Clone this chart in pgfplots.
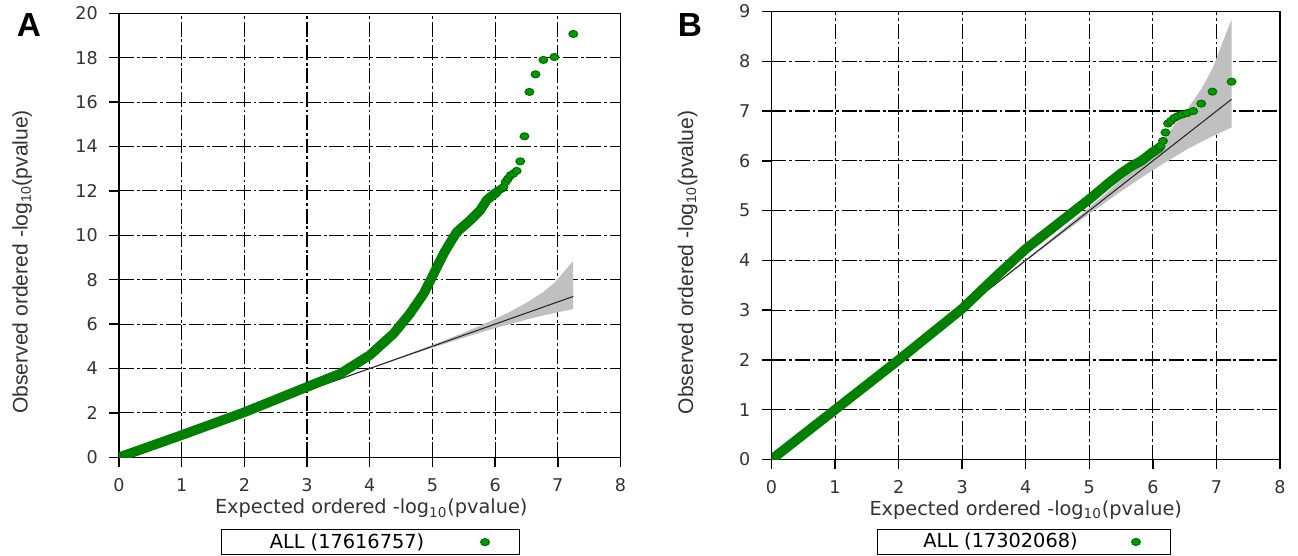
\documentclass[border=0pt]{standalone}
\usepackage{fontspec}
\setmainfont{DejaVu Sans}
\newfontfamily\labfont{Liberation Sans}
\usepackage{pgfplots}
\pgfplotsset{compat=1.18}
\definecolor{qqgreen}{RGB}{0,128,0}
\definecolor{qqband}{RGB}{192,192,192}

\pgfplotsset{
  qqstyle/.style={
    scale only axis,
    xmin=0, xmax=8, xtick={0,...,8},
    ymin=0,
    tick align=outside, tick pos=left,
    major tick length=0.2cm,
    grid=major,
    major grid style={black, line width=0.65pt, dash pattern=on 8.5pt off 1.6pt on 1.6pt off 1.6pt},
    axis line style={black, line width=0.9pt},
    every tick/.style={black, line width=0.8pt},
    tick label style={font=\fontsize{10}{11}\selectfont, text=black!80},
    xticklabel style={yshift=-0.1cm},
    yticklabel style={xshift=-0.1cm},
    /pgf/number format/assume math mode=true,
    xlabel={Expected ordered -log\textsubscript{10}(pvalue)},
    ylabel={Observed ordered -log\textsubscript{10}(pvalue)},
    xlabel style={anchor=center, font=\fontsize{11}{12}\selectfont, text=black!80},
    ylabel style={anchor=center, font=\labfont\fontsize{12}{13}\selectfont, text=black!80},
    legend plot pos=right,
    legend image code/.code={\draw plot coordinates {(0.3cm,0cm)}; \path (0cm,0cm) (0.9cm,0cm);},
  },
  band/.style={forget plot, fill=qqband, draw=none},
  diag/.style={forget plot, black!85, line width=0.6pt},
  dense/.style={forget plot, qqgreen, line width=5.5pt, line cap=round, line join=round},
  pts/.style={only marks, mark=*, mark size=2pt,
    mark options={xscale=1.25, draw=qqgreen!85!black, fill=green!60!black, line width=0.6pt}},
}

\begin{document}
\begin{tikzpicture}
\useasboundingbox (0,0) rectangle (25.96,11.12);

\node[font=\labfont\bfseries\fontsize{19}{20}\selectfont] at (0.58,10.62) {A};
\node[font=\labfont\bfseries\fontsize{19}{20}\selectfont] at (13.8,10.62) {B};

% Panel A
\begin{axis}[qqstyle,
  at={(2.38cm,1.974cm)}, anchor=south west,
  width=10.03cm, height=8.88cm,
  ymax=20, ytick={0,2,...,20},
  xlabel style={at={(axis description cs:0.503,-0.115)}},
  ylabel style={at={(axis description cs:-0.193,0.44)}},
  legend style={at={(axis description cs:0.501,-0.191)}, anchor=center,
    draw=black, line width=0.8pt, inner xsep=2pt, inner ysep=0.3pt,
    font=\fontsize{11}{12}\selectfont},
]
\addplot[band] coordinates {
  (3.246,3.238) (3.746,3.73) (4.246,4.22) (4.547,4.51) (4.946,4.885)
  (5.246,5.16) (5.547,5.43) (5.945,5.77) (6.246,6.01) (6.547,6.24)
  (6.769,6.39) (6.945,6.50) (7.246,6.68)
  (7.246,8.85) (6.945,7.86) (6.769,7.45) (6.547,7.04) (6.246,6.565)
  (5.945,6.16) (5.547,5.67) (5.246,5.33) (4.946,5.005) (4.547,4.585)
  (4.246,4.27) (3.746,3.76) (3.246,3.255)
};
\addplot[diag] coordinates {(0,0) (7.246,7.246)};
\addplot[dense] coordinates {
  (0,0) (1,1) (2,2.03) (2.5,2.6) (3.0,3.17) (3.53,3.77) (4.0,4.6)
  (4.38,5.57) (4.64,6.47) (4.86,7.37) (5.02,8.27) (5.18,9.18) (5.3,9.75)
  (5.39,10.15) (5.6,10.67) (5.76,11.12) (5.87,11.6) (6.03,11.95)
};
\addplot[pts] coordinates {
  (6.07,12.05) (6.10,12.1) (6.132,12.17) (6.167,12.4) (6.205,12.55)
  (6.246,12.7) (6.292,12.78) (6.343,12.9) (6.401,13.33) (6.468,14.46)
  (6.547,16.46) (6.644,17.25) (6.769,17.9) (6.945,18.03) (7.246,19.07)
};
\addlegendentry{\makebox[4.75cm]{ALL (17616757)}}
\end{axis}

% Panel B
\begin{axis}[qqstyle,
  at={(15.43cm,1.93cm)}, anchor=south west,
  width=10.17cm, height=8.96cm,
  ymax=9, ytick={0,1,...,9},
  xlabel style={at={(axis description cs:0.5,-0.113)}},
  ylabel style={at={(axis description cs:-0.165,0.44)}},
  legend style={at={(axis description cs:0.496,-0.184)}, anchor=center,
    draw=black, line width=0.8pt, inner xsep=2pt, inner ysep=0.3pt,
    font=\fontsize{11}{12}\selectfont},
]
\addplot[band] coordinates {
  (3.238,3.230) (3.738,3.722) (4.238,4.212) (4.539,4.502) (4.938,4.877)
  (5.238,5.152) (5.539,5.422) (5.937,5.762) (6.238,6.002) (6.539,6.232)
  (6.761,6.382) (6.937,6.492) (7.238,6.672)
  (7.238,8.842) (6.937,7.852) (6.761,7.442) (6.539,7.032) (6.238,6.557)
  (5.937,6.152) (5.539,5.662) (5.238,5.322) (4.938,4.997) (4.539,4.577)
  (4.238,4.262) (3.738,3.752) (3.238,3.247)
};
\addplot[diag] coordinates {(0,0) (7.238,7.238)};
\addplot[dense] coordinates {
  (0,0) (1,1) (2,2) (3,3.03) (3.5,3.64) (4,4.23) (4.55,4.78) (5.02,5.25)
  (5.3,5.55) (5.5,5.75) (5.66,5.89) (5.82,6.0) (5.98,6.16) (6.11,6.27)
};
\addplot[pts] coordinates {
  (6.12,6.3) (6.159,6.4) (6.197,6.57) (6.238,6.75) (6.284,6.8)
  (6.335,6.86) (6.393,6.9) (6.46,6.93) (6.54,6.96) (6.636,7.0)
  (6.761,7.15) (6.937,7.39) (7.238,7.59)
};
\addlegendentry{\makebox[4.65cm]{ALL (17302068)}}
\end{axis}
\end{tikzpicture}
\end{document}
